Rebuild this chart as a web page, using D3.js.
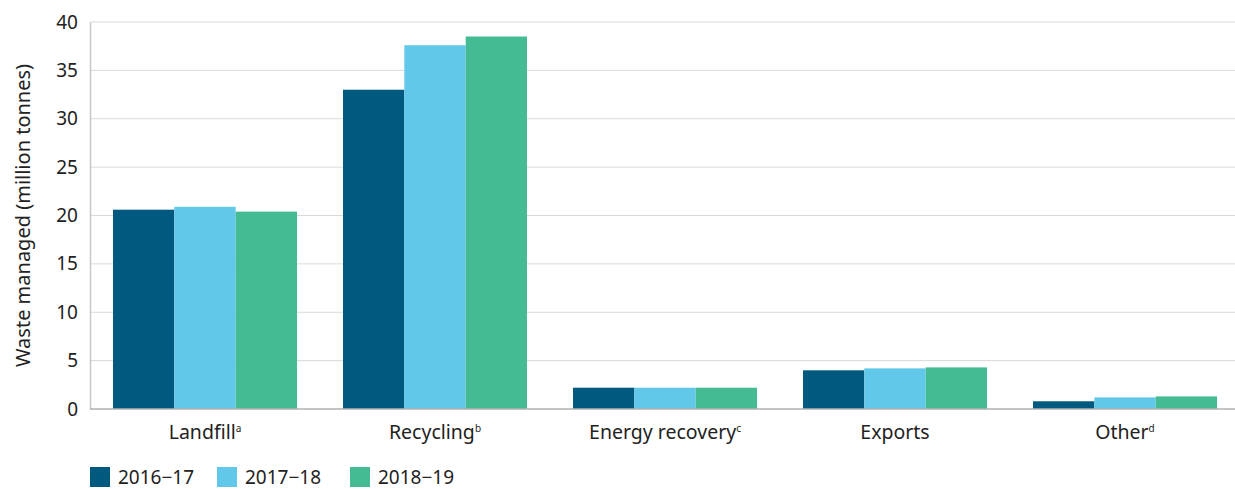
<!DOCTYPE html>
<html><head><meta charset="utf-8">
<script src="https://cdn.jsdelivr.net/npm/d3@7"></script>
<style>
body{margin:0;background:#fff;}
text{font-family:"Noto Sans","Open Sans",sans-serif;fill:#222;}
</style></head>
<body><svg id="c" width="1235" height="489"></svg>
<script>
const categories = ["Landfill", "Recycling", "Energy recovery", "Exports", "Other"];
const superscripts = ["a", "b", "c", "", "d"];
const seriesNames = ["2016\u221217", "2017\u221218", "2018\u221219"];
const v2016_17 = [20.6, 33.0, 2.2, 4.0, 0.8];
const v2017_18 = [20.9, 37.6, 2.2, 4.2, 1.2];
const v2018_19 = [20.4, 38.5, 2.2, 4.3, 1.3];
const yTicks = [0, 5, 10, 15, 20, 25, 30, 35, 40];
const colors = ["#005a80", "#62c8ea", "#45bb94"];

const series = [v2016_17, v2017_18, v2018_19];
const svg = d3.select("#c");
const m = {l: 90, r: 1240, t: 22, b: 409};
const x = d3.scaleBand().domain(categories).range([m.l, m.r]).paddingInner(0.2).paddingOuter(0.1);
const xs = d3.scaleBand().domain(d3.range(series.length)).range([0, x.bandwidth()]);
const y = d3.scaleLinear().domain([0, 40]).range([m.b, m.t]);

// gridlines
svg.append("g").selectAll("line").data(yTicks.filter(d => d > 0)).join("line")
  .attr("x1", m.l).attr("x2", 1235).attr("y1", d => y(d)).attr("y2", d => y(d))
  .attr("stroke", "#d9d9d9").attr("stroke-width", 1);

// y axis
const ya = svg.append("g").attr("transform", `translate(${m.l},0)`)
  .call(d3.axisLeft(y).tickValues(yTicks).tickSize(0).tickPadding(12));
ya.select(".domain").attr("stroke", "#c8c8c8").attr("stroke-width", 1.5);
ya.selectAll("text").style("font-size", "19px").attr("fill", "#222");

// bars
svg.append("g").selectAll("g").data(series).join("g")
  .attr("fill", (d, i) => colors[i])
  .selectAll("rect").data((d, i) => d.map((v, j) => ({v, j, i}))).join("rect")
  .attr("x", d => x(categories[d.j]) + xs(d.i))
  .attr("width", xs.bandwidth())
  .attr("y", d => y(d.v))
  .attr("height", d => y(0) - y(d.v));

// x axis
const xa = svg.append("g").attr("transform", `translate(0,${m.b})`)
  .call(d3.axisBottom(x).tickSize(0).tickPadding(16).tickFormat(() => ""));
xa.select(".domain").attr("stroke", "#b0b0b0").attr("stroke-width", 1.5)
  .attr("d", `M${m.l},0H1235`);
xa.selectAll(".tick text").each(function(d, i) {
  const t = d3.select(this).style("font-size", "19.5px").attr("fill", "#222");
  t.append("tspan").text(d);
  if (superscripts[i]) t.append("tspan").text(superscripts[i]).attr("font-size", "10px").attr("dy", "-7");
});

// y label
svg.append("text").attr("transform", `translate(30,${(m.t + m.b) / 2}) rotate(-90)`)
  .attr("text-anchor", "middle").style("font-size", "20px").text("Waste managed (million tonnes)");

// legend
const lx = [90, 217, 350];
const lg = svg.append("g").selectAll("g").data(seriesNames).join("g")
  .attr("transform", (d, i) => `translate(${lx[i]},467)`);
lg.append("rect").attr("width", 20).attr("height", 20).attr("fill", (d, i) => colors[i]);
lg.append("text").attr("x", 28).attr("y", 17).style("font-size", "19px").text(d => d);
</script></body></html>
